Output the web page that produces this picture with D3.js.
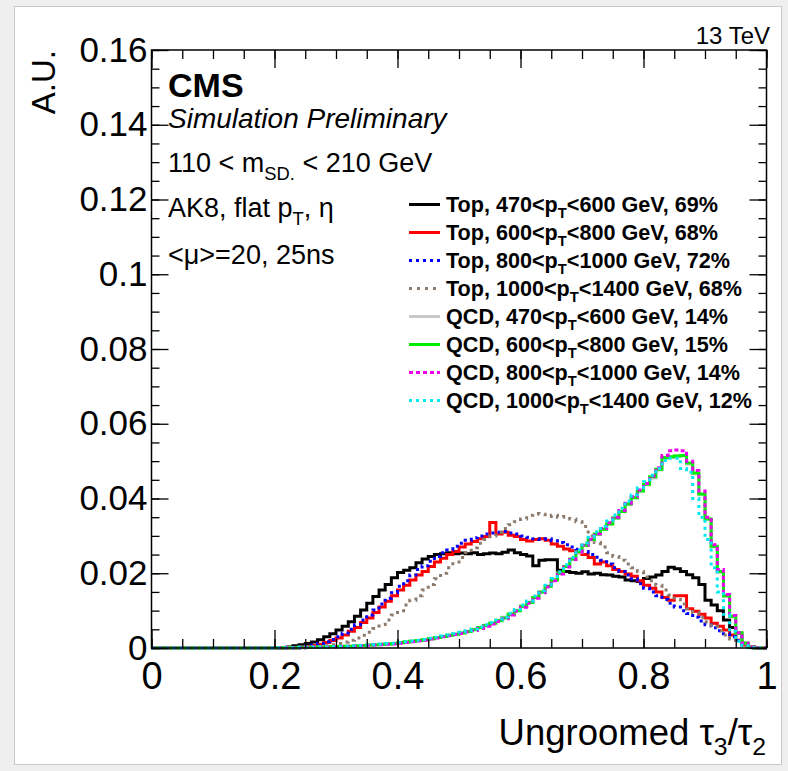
<!DOCTYPE html>
<html>
<head>
<meta charset="utf-8">
<script src="https://cdn.jsdelivr.net/npm/d3@7"></script>
<style>
  body { margin: 0; background: #ffffff; }
  svg { display: block; }
  text { font-family: "Liberation Sans", Arial, Helvetica, sans-serif; white-space: pre; }
</style>
</head>
<body>
<svg id="chart" width="788" height="771"></svg>
<script>
// ---------------- DATA ----------------
const nBins = 100, xMin = 0, xMax = 1;
const xTickValues = [0, 0.2, 0.4, 0.6, 0.8, 1];
const xTickLabels = ["0", "0.2", "0.4", "0.6", "0.8", "1"];
const yTickValues = [0, 0.02, 0.04, 0.06, 0.08, 0.1, 0.12, 0.14, 0.16];
const yTickLabels = ["0", "0.02", "0.04", "0.06", "0.08", "0.1", "0.12", "0.14", "0.16"];

// Top, 470<pT<600 GeV
const top470 = [
  0,0,0,0,0,0,0,0,0,0,
  0,0,0,0,0,0,0,0,0,0,
  0,0,.0003,.0006,.0009,.0012,.0016,.0022,.0030,.0038,
  .0048,.0058,.0070,.0085,.0102,.0120,.0138,.0155,.0170,.0188,
  .0202,.0208,.0215,.0228,.0238,.0245,.0250,.0252,.0255,.0252,
  .0254,.0252,.0255,.0250,.0252,.0254,.0252,.0256,.0262,.0255,
  .0250,.0246,.0220,.0235,.0236,.0236,.0208,.0205,.0202,.0200,
  .0204,.0198,.0200,.0196,.0195,.0192,.0190,.0182,.0180,.0178,
  .0186,.0190,.0195,.0205,.0216,.0212,.0205,.0196,.0188,.0170,
  .0128,.0115,.0100,.0075,.0055,.0040,.0013,.0004,0,0
];
// Top, 600<pT<800 GeV
const top600 = [
  0,0,0,0,0,0,0,0,0,0,
  0,0,0,0,0,0,0,0,0,0,
  0,0,0,0,.0002,.0004,.0007,.0010,.0015,.0020,
  .0027,.0035,.0045,.0055,.0068,.0080,.0095,.0110,.0125,.0140,
  .0155,.0168,.0182,.0195,.0205,.0218,.0230,.0240,.0250,.0258,
  .0270,.0278,.0285,.0292,.0298,.0336,.0305,.0310,.0302,.0298,
  .0290,.0286,.0290,.0292,.0288,.0278,.0272,.0265,.0260,.0255,
  .0250,.0242,.0225,.0230,.0220,.0210,.0205,.0198,.0192,.0180,
  .0168,.0160,.0150,.0135,.0128,.0140,.0140,.0105,.0098,.0090,
  .0080,.0066,.0058,.0048,.0035,.0021,.0008,.0002,0,0
];
// Top, 800<pT<1000 GeV
const top800 = [
  0,0,0,0,0,0,0,0,0,0,
  0,0,0,0,0,0,0,0,0,0,
  0,0,0,0,.0003,.0005,.0008,.0012,.0017,.0023,
  .0030,.0040,.0050,.0062,.0075,.0088,.0102,.0118,.0133,.0148,
  .0165,.0180,.0195,.0210,.0220,.0232,.0245,.0255,.0262,.0272,
  .0280,.0288,.0295,.0300,.0305,.0308,.0310,.0312,.0308,.0305,
  .0300,.0296,.0292,.0290,.0292,.0287,.0282,.0276,.0270,.0264,
  .0258,.0250,.0243,.0235,.0225,.0215,.0205,.0195,.0185,.0172,
  .0160,.0150,.0140,.0130,.0120,.0110,.0100,.0092,.0082,.0072,
  .0062,.0054,.0046,.0038,.0030,.0020,.0010,.0003,0,0
];
// Top, 1000<pT<1400 GeV
const top1000 = [
  0,0,0,0,0,0,0,0,0,0,
  0,0,0,0,0,0,0,0,0,0,
  0,0,0,0,0,0,.0002,.0004,.0006,.0009,
  .0012,.0016,.0021,.0027,.0034,.0042,.0052,.0063,.0075,.0088,
  .0100,.0115,.0128,.0140,.0155,.0170,.0185,.0200,.0215,.0230,
  .0242,.0255,.0268,.0280,.0290,.0300,.0310,.0320,.0330,.0338,
  .0345,.0355,.0360,.0358,.0352,.0355,.0350,.0352,.0345,.0338,
  .0325,.0300,.0282,.0270,.0255,.0245,.0235,.0225,.0215,.0205,
  .0190,.0180,.0168,.0155,.0142,.0130,.0118,.0105,.0095,.0082,
  .0070,.0058,.0046,.0035,.0024,.0014,.0006,.0002,0,0
];
// QCD, 470<pT<600 GeV
const qcd470 = [
  0,0,0,0,0,0,0,0,0,0,
  0,0,0,0,0,0,0,0,0,0,
  .0001,.0001,.0001,.0001,.0002,.0002,.0002,.0003,.0003,.0004,
  .0004,.0005,.0005,.0006,.0007,.0008,.0009,.0010,.0011,.0012,
  .0014,.0016,.0018,.0020,.0022,.0025,.0028,.0031,.0034,.0037,
  .0041,.0045,.0050,.0055,.0061,.0067,.0074,.0082,.0091,.0101,
  .0112,.0123,.0136,.0150,.0165,.0182,.0200,.0218,.0237,.0256,
  .0274,.0289,.0304,.0318,.0332,.0348,.0365,.0384,.0402,.0420,
  .0437,.0455,.0476,.0508,.0510,.0513,.0514,.0492,.0466,.0410,
  .0344,.0270,.0203,.0138,.0083,.0040,.0013,.0003,0,0
];
// QCD, 600<pT<800 GeV
const qcd600 = [
  0,0,0,0,0,0,0,0,0,0,
  0,0,0,0,0,0,0,0,0,0,
  .0001,.0001,.0001,.0001,.0002,.0002,.0002,.0003,.0003,.0004,
  .0004,.0005,.0005,.0006,.0007,.0008,.0009,.0010,.0011,.0012,
  .0014,.0016,.0018,.0020,.0022,.0025,.0028,.0031,.0034,.0037,
  .0040,.0044,.0049,.0054,.0060,.0066,.0073,.0080,.0090,.0100,
  .0112,.0122,.0135,.0150,.0165,.0182,.0200,.0218,.0238,.0258,
  .0275,.0290,.0305,.0318,.0332,.0348,.0365,.0385,.0402,.0420,
  .0438,.0458,.0478,.0510,.0512,.0514,.0515,.0495,.0468,.0412,
  .0345,.0272,.0205,.0140,.0085,.0040,.0013,.0003,0,0
];
// QCD, 800<pT<1000 GeV
const qcd800 = [
  0,0,0,0,0,0,0,0,0,0,
  0,0,0,0,0,0,0,0,0,0,
  .0001,.0001,.0001,.0001,.0001,.0002,.0002,.0002,.0003,.0003,
  .0004,.0004,.0005,.0005,.0006,.0007,.0008,.0009,.0010,.0011,
  .0013,.0015,.0017,.0019,.0021,.0024,.0027,.0030,.0033,.0036,
  .0039,.0043,.0047,.0052,.0058,.0064,.0071,.0078,.0088,.0098,
  .0109,.0120,.0133,.0148,.0163,.0180,.0198,.0217,.0237,.0257,
  .0275,.0291,.0306,.0320,.0335,.0350,.0368,.0387,.0405,.0423,
  .0440,.0460,.0482,.0515,.0528,.0530,.0528,.0500,.0475,.0420,
  .0350,.0276,.0210,.0143,.0087,.0041,.0013,.0003,0,0
];
// QCD, 1000<pT<1400 GeV
const qcd1000 = [
  0,0,0,0,0,0,0,0,0,0,
  0,0,0,0,0,0,0,0,0,0,
  .0001,.0001,.0001,.0001,.0002,.0002,.0002,.0003,.0003,.0004,
  .0004,.0005,.0006,.0006,.0007,.0008,.0009,.0010,.0012,.0013,
  .0015,.0017,.0019,.0021,.0023,.0026,.0029,.0032,.0035,.0038,
  .0042,.0046,.0051,.0056,.0062,.0068,.0075,.0083,.0093,.0103,
  .0115,.0126,.0139,.0153,.0168,.0186,.0204,.0223,.0243,.0263,
  .0281,.0296,.0311,.0326,.0340,.0356,.0374,.0393,.0410,.0428,
  .0445,.0462,.0480,.0502,.0508,.0508,.0480,.0470,.0400,.0350,
  .0290,.0215,.0150,.0090,.0045,.0018,.0006,.0001,0,0
];

const seriesNames = [
  ["Top", "470", "600", "69%"],
  ["Top", "600", "800", "68%"],
  ["Top", "800", "1000", "72%"],
  ["Top", "1000", "1400", "68%"],
  ["QCD", "470", "600", "14%"],
  ["QCD", "600", "800", "15%"],
  ["QCD", "800", "1000", "14%"],
  ["QCD", "1000", "1400", "12%"]
];
const seriesValues = [top470, top600, top800, top1000, qcd470, qcd600, qcd800, qcd1000];
const seriesColors = ["#000000", "#ff0000", "#0000ff", "#8c7b6c", "#c8c8c8", "#00ee00", "#ee00ee", "#00e8f0"];
const seriesDash = [null, null, "3,4", "3,5", null, null, "4,3", "3,4"];

// ---------------- LAYOUT ----------------
const svg = d3.select("#chart");
const W = 788, H = 771;
const L = 151.5, R = 766.5, T = 50, B = 648;

svg.append("rect").attr("x", 0).attr("y", 0).attr("width", W).attr("height", H).attr("fill", "#efefef");
svg.append("rect").attr("x", 14.5).attr("y", 6.5).attr("width", 767).attr("height", 758)
  .attr("fill", "#ffffff").attr("stroke", "#c8c8c8").attr("stroke-width", 1);

const x = d3.scaleLinear().domain([xMin, xMax]).range([L, R]);
const y = d3.scaleLinear().domain([0, 0.16]).range([B, T]);

const binWidth = (xMax - xMin) / nBins;

// histograms
const line = d3.line()
  .x(d => x(d[0]))
  .y(d => y(d[1]))
  .curve(d3.curveStepAfter);

const gHist = svg.append("g");
seriesValues.forEach((vals, k) => {
  const pts = vals.map((v, i) => [xMin + i * binWidth, v]);
  pts.push([xMax, vals[vals.length - 1]]);
  const p = gHist.append("path")
    .attr("d", line(pts))
    .attr("fill", "none")
    .attr("stroke", seriesColors[k])
    .attr("stroke-width", 3)
    .attr("stroke-linejoin", "miter");
  if (seriesDash[k]) p.attr("stroke-dasharray", seriesDash[k]);
});

// axes
const xMinor = d3.range(0, 1.0001, 0.05);
const yMinor = d3.range(0, 0.16001, 0.005);

function styleAxis(g) {
  g.select(".domain").remove();
  g.selectAll("line").attr("stroke", "#000").attr("stroke-width", 1.3);
}

// bottom
svg.append("g").attr("transform", `translate(0,${B})`)
  .call(d3.axisBottom(x).tickValues(xMinor).tickSize(-9).tickFormat(""))
  .call(styleAxis);
const gxB = svg.append("g").attr("transform", `translate(0,${B})`)
  .call(d3.axisBottom(x).tickValues(xTickValues).tickSize(-18).tickPadding(12)
    .tickFormat((d, i) => xTickLabels[i]))
  .call(styleAxis);
gxB.selectAll("text").attr("font-size", 38).attr("fill", "#000")
  .attr("font-family", "Liberation Sans, Arial, sans-serif").attr("dy", "0.71em").attr("y", 14);

// top
svg.append("g").attr("transform", `translate(0,${T})`)
  .call(d3.axisTop(x).tickValues(xMinor).tickSize(-9).tickFormat(""))
  .call(styleAxis);
svg.append("g").attr("transform", `translate(0,${T})`)
  .call(d3.axisTop(x).tickValues(xTickValues).tickSize(-18).tickFormat(""))
  .call(styleAxis);

// left
svg.append("g").attr("transform", `translate(${L},0)`)
  .call(d3.axisLeft(y).tickValues(yMinor).tickSize(-8).tickFormat(""))
  .call(styleAxis);
const gyL = svg.append("g").attr("transform", `translate(${L},0)`)
  .call(d3.axisLeft(y).tickValues(yTickValues).tickSize(-17).tickPadding(4)
    .tickFormat((d, i) => yTickLabels[i]))
  .call(styleAxis);
gyL.selectAll("text").attr("font-size", 35).attr("fill", "#000")
  .attr("font-family", "Liberation Sans, Arial, sans-serif");

// right
svg.append("g").attr("transform", `translate(${R},0)`)
  .call(d3.axisRight(y).tickValues(yMinor).tickSize(-8).tickFormat(""))
  .call(styleAxis);
svg.append("g").attr("transform", `translate(${R},0)`)
  .call(d3.axisRight(y).tickValues(yTickValues).tickSize(-17).tickFormat(""))
  .call(styleAxis);

// frame
svg.append("rect").attr("x", L).attr("y", T).attr("width", R - L).attr("height", B - T)
  .attr("fill", "none").attr("stroke", "#000").attr("stroke-width", 1.5);

// ---------------- TEXTS ----------------
svg.append("text").attr("x", 770).attr("y", 44).attr("text-anchor", "end")
  .attr("font-size", 24).text("13 TeV");

svg.append("text").attr("transform", "translate(55,50) rotate(-90)")
  .attr("text-anchor", "end").attr("font-size", 33).text("A.U.");

svg.append("text").attr("x", 168).attr("y", 97).attr("font-size", 34)
  .attr("font-weight", "bold").text("CMS");
svg.append("text").attr("x", 168).attr("y", 128).attr("font-size", 28)
  .attr("font-style", "italic").text("Simulation Preliminary");

function subText(sel, parts, fs) {
  const sub = fs * 0.68;
  const off = fs * 0.28;
  let state = false;
  parts.forEach(([t, isSub]) => {
    const ts = sel.append("tspan").text(t);
    if (isSub && !state) { ts.attr("dy", off).attr("font-size", sub); state = true; }
    else if (!isSub && state) { ts.attr("dy", -off); state = false; }
    else if (isSub) ts.attr("font-size", sub);
  });
}

const t1 = svg.append("text").attr("x", 168).attr("y", 172).attr("font-size", 27);
subText(t1, [["110 < m", false], ["SD.", true], [" < 210 GeV", false]], 27);
const t2 = svg.append("text").attr("x", 168).attr("y", 217).attr("font-size", 27);
subText(t2, [["AK8, flat p", false], ["T", true], [", \u03B7", false]], 27);
svg.append("text").attr("x", 168).attr("y", 264).attr("font-size", 27)
  .text("<\u03BC>=20, 25ns");

const tX = svg.append("text").attr("x", 766).attr("y", 745).attr("font-size", 36.5)
  .attr("text-anchor", "end");
subText(tX, [["Ungroomed \u03C4", false], ["3", true], ["/\u03C4", false], ["2", true]], 36.5);

// legend
const legX0 = 409, legX1 = 440, legTX = 446, legY0 = 212, legDY = 28;
const gLeg = svg.append("g");
seriesNames.forEach((nm, k) => {
  const yy = legY0 + k * legDY;
  const ln = gLeg.append("line").attr("x1", legX0).attr("x2", legX1)
    .attr("y1", yy - 7.5).attr("y2", yy - 7.5)
    .attr("stroke", seriesColors[k]).attr("stroke-width", 3);
  if (seriesDash[k]) ln.attr("stroke-dasharray", seriesDash[k]);
  const tx = gLeg.append("text").attr("x", legTX).attr("y", yy)
    .attr("font-size", 21.6).attr("font-weight", "bold");
  subText(tx, [[`${nm[0]}, ${nm[1]}<p`, false], ["T", true], [`<${nm[2]} GeV, ${nm[3]}`, false]], 21.6);
});
</script>
</body>
</html>
